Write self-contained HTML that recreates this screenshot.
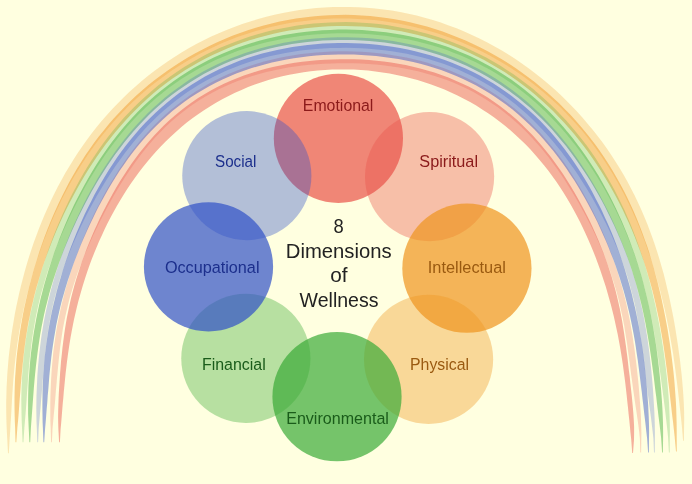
<!DOCTYPE html>
<html><head><meta charset="utf-8"><title>8 Dimensions of Wellness</title>
<style>
html,body{margin:0;padding:0;background:#ffffe0;}
body{width:692px;height:484px;overflow:hidden;position:relative;}
svg{position:absolute;left:0;top:0;display:block;will-change:transform;transform:translateZ(0)}
text{font-family:"Liberation Sans",sans-serif;}
</style></head><body>
<svg width="692" height="484" viewBox="0 0 692 484">
<path d="M59.9 442.3 L59.1 442.3 L58.4 429.2 L58.2 422.9 L58.1 416.6 L58.2 410.4 L58.4 404.1 L58.6 397.9 L58.9 391.7 L59.3 385.5 L59.7 379.2 L60.1 373.0 L60.6 366.8 L61.1 360.6 L61.8 354.4 L62.4 348.2 L63.2 341.9 L64.0 335.7 L64.9 329.5 L65.9 323.2 L67.0 317.0 L68.3 310.7 L69.6 304.5 L71.0 298.3 L72.6 292.0 L74.3 285.8 L76.1 279.6 L78.0 273.4 L80.0 267.2 L82.1 261.0 L84.4 254.9 L86.7 248.7 L89.2 242.6 L91.7 236.5 L94.4 230.3 L97.2 224.2 L100.0 218.1 L103.0 212.0 L106.1 205.9 L109.3 199.9 L112.7 193.8 L116.1 187.8 L119.7 181.8 L123.4 175.9 L127.3 170.0 L131.3 164.1 L135.5 158.3 L139.8 152.6 L144.3 147.0 L148.9 141.5 L153.7 136.1 L158.7 130.8 L163.8 125.6 L169.1 120.6 L174.6 115.7 L180.3 111.1 L186.1 106.6 L192.0 102.3 L198.1 98.1 L204.4 94.2 L210.8 90.5 L217.3 87.1 L223.9 83.8 L230.7 80.7 L237.5 77.9 L244.5 75.3 L251.5 72.9 L258.6 70.7 L265.7 68.7 L272.9 67.0 L280.2 65.4 L287.5 64.0 L294.8 62.8 L302.2 61.8 L309.6 60.9 L317.0 60.2 L324.4 59.7 L331.8 59.4 L339.3 59.2 L346.7 59.2 L354.1 59.3 L361.5 59.6 L369.0 60.1 L376.4 60.8 L383.7 61.6 L391.1 62.6 L398.4 63.8 L405.7 65.1 L413.0 66.7 L420.2 68.4 L427.3 70.4 L434.4 72.6 L441.4 75.0 L448.4 77.6 L455.2 80.4 L462.0 83.4 L468.6 86.6 L475.1 90.1 L481.5 93.8 L487.8 97.6 L493.9 101.7 L499.9 106.0 L505.7 110.4 L511.3 115.0 L516.9 119.8 L522.2 124.8 L527.4 129.9 L532.4 135.1 L537.3 140.4 L542.0 145.9 L546.5 151.4 L550.9 157.0 L555.1 162.7 L559.2 168.5 L563.2 174.3 L567.0 180.2 L570.6 186.1 L574.2 192.0 L577.6 198.0 L580.9 204.0 L584.1 210.0 L587.2 216.0 L590.2 222.1 L593.0 228.1 L595.8 234.2 L598.4 240.3 L600.9 246.4 L603.3 252.6 L605.6 258.7 L607.8 264.9 L609.8 271.0 L611.8 277.2 L613.6 283.4 L615.3 289.6 L616.9 295.9 L618.3 302.1 L619.7 308.3 L620.9 314.6 L622.1 320.8 L623.1 327.0 L624.1 333.2 L625.0 339.5 L625.9 345.7 L626.7 351.9 L627.5 358.1 L628.2 364.3 L628.9 370.4 L629.7 376.6 L630.3 382.8 L631.0 389.1 L631.7 395.3 L632.3 401.6 L632.9 407.9 L633.4 414.2 L633.8 420.5 L634.1 426.9 L634.1 433.3 L634.0 439.7 L633.0 453.0 L632.2 453.0 L631.2 439.3 L630.5 432.9 L629.9 426.5 L629.3 420.2 L628.6 414.0 L628.0 407.7 L627.3 401.6 L626.7 395.4 L626.0 389.3 L625.3 383.2 L624.5 377.1 L623.7 371.0 L622.9 364.9 L622.0 358.9 L621.0 352.8 L620.0 346.8 L618.9 340.8 L617.8 334.8 L616.5 328.7 L615.2 322.7 L613.9 316.7 L612.4 310.8 L610.9 304.8 L609.2 298.8 L607.5 292.8 L605.8 286.8 L603.9 280.9 L601.9 274.9 L599.9 268.9 L597.7 263.0 L595.5 257.0 L593.1 251.1 L590.7 245.2 L588.1 239.3 L585.5 233.4 L582.7 227.5 L579.8 221.6 L576.8 215.8 L573.7 210.0 L570.5 204.2 L567.1 198.5 L563.6 192.8 L559.9 187.1 L556.2 181.5 L552.2 176.0 L548.2 170.5 L544.0 165.2 L539.6 159.9 L535.1 154.7 L530.5 149.6 L525.7 144.6 L520.7 139.7 L515.6 135.0 L510.4 130.3 L505.0 125.8 L499.5 121.5 L493.9 117.3 L488.1 113.3 L482.2 109.4 L476.2 105.6 L470.1 102.1 L463.8 98.7 L457.5 95.5 L451.0 92.5 L444.5 89.6 L437.9 87.0 L431.2 84.5 L424.4 82.2 L417.5 80.1 L410.6 78.2 L403.7 76.4 L396.6 74.9 L389.6 73.5 L382.5 72.4 L375.4 71.4 L368.2 70.6 L361.0 70.0 L353.8 69.6 L346.6 69.4 L339.4 69.4 L332.2 69.6 L325.0 70.0 L317.8 70.5 L310.7 71.3 L303.5 72.3 L296.4 73.4 L289.3 74.8 L282.3 76.3 L275.3 78.1 L268.4 80.1 L261.6 82.2 L254.8 84.6 L248.1 87.1 L241.5 89.9 L235.0 92.8 L228.6 95.9 L222.2 99.2 L216.0 102.7 L209.9 106.4 L204.0 110.2 L198.1 114.2 L192.4 118.3 L186.8 122.6 L181.4 127.1 L176.1 131.7 L170.9 136.4 L165.9 141.2 L161.0 146.2 L156.3 151.3 L151.7 156.4 L147.3 161.7 L143.0 167.0 L138.8 172.4 L134.8 177.9 L130.9 183.5 L127.2 189.1 L123.6 194.7 L120.1 200.4 L116.7 206.2 L113.5 212.0 L110.4 217.8 L107.4 223.6 L104.5 229.5 L101.8 235.4 L99.1 241.3 L96.6 247.2 L94.2 253.1 L91.8 259.1 L89.6 265.0 L87.5 271.0 L85.5 277.0 L83.6 283.0 L81.8 289.0 L80.1 295.0 L78.4 301.0 L76.9 307.0 L75.5 313.1 L74.1 319.1 L72.9 325.1 L71.7 331.2 L70.6 337.2 L69.6 343.3 L68.7 349.3 L67.8 355.4 L67.0 361.4 L66.3 367.5 L65.6 373.6 L65.0 379.6 L64.4 385.7 L63.8 391.8 L63.3 397.9 L62.7 404.1 L62.2 410.2 L61.7 416.4 L61.2 422.7 L60.6 429.0Z" fill="rgba(234,82,73,0.455)"/>
<path d="M51.9 442.3 L51.1 442.3 L50.7 428.9 L50.4 422.4 L50.3 416.0 L50.3 409.6 L50.3 403.2 L50.4 396.8 L50.6 390.4 L50.9 384.0 L51.2 377.7 L51.6 371.3 L52.1 364.9 L52.7 358.5 L53.3 352.1 L54.1 345.7 L55.0 339.4 L55.9 333.0 L57.0 326.6 L58.2 320.2 L59.5 313.9 L60.9 307.5 L62.4 301.2 L64.0 294.8 L65.7 288.5 L67.5 282.2 L69.5 275.9 L71.5 269.6 L73.6 263.3 L75.9 257.0 L78.2 250.8 L80.7 244.5 L83.2 238.2 L85.9 232.0 L88.6 225.8 L91.5 219.5 L94.4 213.3 L97.5 207.1 L100.7 200.9 L104.0 194.7 L107.4 188.6 L111.0 182.5 L114.7 176.4 L118.5 170.3 L122.5 164.4 L126.6 158.4 L130.9 152.6 L135.4 146.8 L140.0 141.1 L144.8 135.6 L149.7 130.1 L154.8 124.8 L160.1 119.6 L165.5 114.5 L171.2 109.6 L176.9 104.9 L182.9 100.4 L189.0 96.0 L195.2 91.8 L201.6 87.9 L208.1 84.1 L214.7 80.6 L221.4 77.2 L228.3 74.1 L235.2 71.2 L242.3 68.4 L249.4 65.9 L256.6 63.7 L263.9 61.6 L271.2 59.7 L278.6 58.0 L286.0 56.5 L293.5 55.2 L301.0 54.1 L308.5 53.2 L316.1 52.5 L323.6 51.9 L331.2 51.5 L338.8 51.3 L346.4 51.3 L353.9 51.4 L361.5 51.8 L369.1 52.3 L376.6 53.0 L384.1 53.8 L391.6 54.9 L399.1 56.2 L406.5 57.6 L413.9 59.2 L421.3 61.1 L428.5 63.1 L435.8 65.4 L442.9 67.8 L449.9 70.5 L456.9 73.4 L463.8 76.5 L470.5 79.7 L477.2 83.2 L483.7 87.0 L490.1 90.9 L496.4 95.0 L502.5 99.2 L508.4 103.7 L514.3 108.3 L519.9 113.1 L525.4 118.1 L530.8 123.2 L535.9 128.4 L541.0 133.8 L545.8 139.3 L550.5 144.9 L555.1 150.5 L559.5 156.3 L563.7 162.1 L567.8 168.0 L571.7 174.0 L575.5 180.0 L579.2 186.0 L582.7 192.1 L586.1 198.2 L589.4 204.3 L592.6 210.5 L595.6 216.7 L598.5 222.9 L601.4 229.1 L604.1 235.3 L606.6 241.6 L609.1 247.8 L611.5 254.1 L613.7 260.4 L615.9 266.7 L617.9 273.0 L619.8 279.3 L621.6 285.6 L623.4 291.9 L625.0 298.3 L626.5 304.6 L627.9 310.9 L629.2 317.3 L630.4 323.6 L631.5 330.0 L632.6 336.3 L633.5 342.7 L634.5 349.0 L635.3 355.4 L636.1 361.7 L636.8 368.1 L637.5 374.4 L638.2 380.8 L638.8 387.2 L639.3 393.5 L639.8 400.0 L640.3 406.4 L640.7 412.8 L641.0 419.3 L641.2 425.8 L641.4 432.4 L641.3 438.9 L641.1 452.6 L640.3 452.6 L639.9 438.7 L639.2 432.1 L638.4 425.6 L637.5 419.1 L636.6 412.7 L635.6 406.3 L634.7 400.0 L633.8 393.7 L632.9 387.4 L632.1 381.2 L631.2 375.0 L630.4 368.8 L629.6 362.6 L628.8 356.4 L627.9 350.2 L627.1 344.0 L626.1 337.7 L625.1 331.5 L624.1 325.3 L622.9 319.1 L621.6 312.9 L620.3 306.7 L618.8 300.5 L617.2 294.3 L615.5 288.2 L613.6 282.0 L611.6 275.9 L609.6 269.8 L607.3 263.7 L605.0 257.6 L602.6 251.6 L600.0 245.6 L597.4 239.6 L594.6 233.6 L591.7 227.6 L588.7 221.7 L585.7 215.8 L582.5 209.9 L579.2 204.0 L575.8 198.1 L572.3 192.2 L568.7 186.4 L565.0 180.6 L561.2 174.8 L557.2 169.1 L553.1 163.5 L548.9 157.8 L544.5 152.3 L540.0 146.8 L535.3 141.5 L530.5 136.2 L525.5 131.1 L520.3 126.1 L515.0 121.2 L509.5 116.5 L503.9 112.0 L498.1 107.6 L492.1 103.4 L486.0 99.5 L479.8 95.7 L473.4 92.1 L467.0 88.8 L460.4 85.7 L453.7 82.8 L446.9 80.1 L440.0 77.7 L433.0 75.4 L426.0 73.4 L418.9 71.6 L411.8 69.9 L404.6 68.5 L397.4 67.3 L390.1 66.2 L382.8 65.3 L375.6 64.5 L368.2 64.0 L360.9 63.6 L353.6 63.3 L346.3 63.2 L339.0 63.2 L331.7 63.4 L324.3 63.7 L317.0 64.2 L309.7 64.8 L302.4 65.6 L295.2 66.5 L287.9 67.6 L280.7 68.9 L273.5 70.4 L266.4 72.1 L259.3 73.9 L252.3 76.0 L245.3 78.3 L238.4 80.7 L231.6 83.4 L224.9 86.4 L218.3 89.5 L211.8 92.9 L205.5 96.5 L199.3 100.3 L193.2 104.3 L187.3 108.5 L181.5 113.0 L175.9 117.6 L170.5 122.3 L165.2 127.3 L160.1 132.4 L155.2 137.6 L150.4 143.0 L145.8 148.5 L141.4 154.1 L137.1 159.7 L133.0 165.4 L129.0 171.2 L125.1 177.0 L121.4 182.9 L117.8 188.8 L114.3 194.7 L110.9 200.7 L107.7 206.6 L104.5 212.6 L101.4 218.5 L98.4 224.5 L95.5 230.5 L92.7 236.5 L90.0 242.4 L87.4 248.4 L84.8 254.5 L82.4 260.5 L80.1 266.5 L77.8 272.6 L75.7 278.7 L73.7 284.8 L71.8 291.0 L70.0 297.1 L68.4 303.3 L66.9 309.5 L65.5 315.7 L64.2 321.9 L63.0 328.1 L62.0 334.4 L61.1 340.6 L60.2 346.9 L59.5 353.1 L58.8 359.4 L58.2 365.6 L57.6 371.9 L57.0 378.1 L56.5 384.3 L55.9 390.6 L55.4 396.9 L54.9 403.2 L54.3 409.5 L53.7 415.8 L53.1 422.2 L52.5 428.7Z" fill="rgba(234,82,73,0.240)"/>
<path d="M16.3 442.3 L15.5 442.3 L15.1 427.5 L14.8 420.4 L14.6 413.3 L14.5 406.2 L14.5 399.1 L14.6 392.0 L14.8 384.9 L15.1 377.8 L15.6 370.7 L16.1 363.6 L16.7 356.5 L17.5 349.4 L18.4 342.4 L19.4 335.3 L20.5 328.2 L21.7 321.2 L23.0 314.1 L24.4 307.1 L26.0 300.1 L27.6 293.0 L29.3 286.0 L31.2 279.0 L33.1 272.0 L35.2 265.0 L37.4 258.0 L39.6 251.0 L42.0 244.0 L44.5 237.1 L47.2 230.1 L49.9 223.2 L52.8 216.2 L55.8 209.4 L59.0 202.5 L62.3 195.7 L65.7 188.9 L69.3 182.1 L73.0 175.4 L76.9 168.8 L81.0 162.2 L85.2 155.6 L89.6 149.2 L94.1 142.8 L98.8 136.6 L103.7 130.4 L108.7 124.3 L113.9 118.3 L119.3 112.5 L124.8 106.7 L130.5 101.1 L136.3 95.6 L142.3 90.3 L148.4 85.1 L154.7 80.1 L161.1 75.2 L167.7 70.5 L174.4 65.9 L181.3 61.5 L188.2 57.3 L195.3 53.2 L202.5 49.4 L209.8 45.7 L217.2 42.2 L224.7 38.9 L232.3 35.8 L240.0 33.0 L247.8 30.3 L255.7 27.8 L263.6 25.5 L271.6 23.4 L279.7 21.6 L287.8 20.0 L295.9 18.6 L304.1 17.4 L312.3 16.4 L320.6 15.7 L328.8 15.2 L337.1 14.9 L345.4 14.8 L353.7 15.0 L362.0 15.4 L370.2 16.0 L378.5 16.9 L386.7 17.9 L394.8 19.2 L403.0 20.8 L411.0 22.5 L419.0 24.5 L427.0 26.6 L434.9 29.0 L442.7 31.6 L450.4 34.4 L458.1 37.4 L465.6 40.6 L473.1 44.0 L480.4 47.5 L487.7 51.3 L494.8 55.2 L501.8 59.3 L508.7 63.6 L515.5 68.1 L522.1 72.7 L528.6 77.4 L535.0 82.3 L541.2 87.4 L547.3 92.6 L553.3 97.9 L559.1 103.3 L564.7 108.9 L570.2 114.6 L575.6 120.4 L580.8 126.4 L585.8 132.4 L590.6 138.5 L595.4 144.8 L599.9 151.1 L604.3 157.5 L608.5 164.0 L612.5 170.5 L616.4 177.2 L620.2 183.9 L623.7 190.6 L627.2 197.4 L630.4 204.2 L633.5 211.1 L636.5 218.0 L639.3 224.9 L642.0 231.9 L644.5 238.9 L647.0 245.8 L649.3 252.8 L651.4 259.9 L653.5 266.9 L655.4 273.9 L657.3 280.9 L659.0 287.9 L660.7 294.9 L662.2 302.0 L663.7 309.0 L665.1 316.0 L666.4 323.0 L667.7 330.0 L668.8 337.1 L669.9 344.1 L670.9 351.1 L671.8 358.1 L672.7 365.2 L673.5 372.2 L674.2 379.3 L674.8 386.4 L675.3 393.5 L675.8 400.6 L676.2 407.8 L676.4 414.9 L676.6 422.1 L676.7 429.3 L676.7 436.5 L676.8 451.6 L676.0 451.6 L674.6 436.3 L673.8 429.0 L673.0 421.8 L672.1 414.7 L671.3 407.6 L670.5 400.6 L669.7 393.6 L668.9 386.6 L668.0 379.7 L667.2 372.8 L666.3 365.9 L665.4 359.0 L664.4 352.1 L663.4 345.2 L662.3 338.3 L661.1 331.4 L659.9 324.6 L658.6 317.7 L657.1 310.9 L655.6 304.0 L654.0 297.2 L652.3 290.3 L650.5 283.5 L648.5 276.7 L646.5 269.9 L644.3 263.1 L642.0 256.3 L639.6 249.6 L637.1 242.9 L634.4 236.1 L631.7 229.5 L628.8 222.8 L625.7 216.2 L622.6 209.6 L619.3 203.0 L615.9 196.5 L612.3 190.0 L608.6 183.6 L604.8 177.2 L600.8 170.8 L596.7 164.5 L592.5 158.3 L588.1 152.1 L583.6 146.1 L578.9 140.0 L574.1 134.1 L569.1 128.3 L564.0 122.5 L558.7 116.9 L553.3 111.3 L547.7 105.9 L542.0 100.7 L536.1 95.5 L530.1 90.5 L523.9 85.7 L517.6 81.0 L511.1 76.4 L504.6 72.1 L497.8 67.9 L491.0 63.9 L484.1 60.1 L477.0 56.5 L469.8 53.0 L462.5 49.8 L455.1 46.8 L447.7 44.0 L440.1 41.3 L432.5 38.9 L424.8 36.7 L417.0 34.7 L409.2 32.9 L401.3 31.3 L393.4 30.0 L385.5 28.8 L377.5 27.8 L369.5 27.1 L361.5 26.5 L353.4 26.2 L345.4 26.0 L337.3 26.1 L329.3 26.3 L321.3 26.8 L313.2 27.4 L305.3 28.3 L297.3 29.4 L289.3 30.6 L281.5 32.1 L273.6 33.8 L265.8 35.7 L258.1 37.8 L250.4 40.1 L242.8 42.6 L235.3 45.3 L227.8 48.3 L220.5 51.4 L213.2 54.7 L206.1 58.3 L199.1 62.0 L192.2 65.9 L185.4 70.1 L178.7 74.4 L172.2 78.8 L165.8 83.5 L159.6 88.3 L153.5 93.3 L147.6 98.5 L141.9 103.8 L136.3 109.2 L130.8 114.8 L125.5 120.4 L120.4 126.2 L115.4 132.1 L110.6 138.1 L105.9 144.1 L101.4 150.3 L97.0 156.5 L92.8 162.8 L88.7 169.1 L84.7 175.5 L80.9 181.9 L77.2 188.4 L73.7 194.9 L70.2 201.4 L66.9 208.0 L63.7 214.6 L60.6 221.2 L57.7 227.8 L54.8 234.5 L52.1 241.2 L49.5 247.9 L47.0 254.6 L44.6 261.3 L42.3 268.1 L40.2 274.9 L38.2 281.7 L36.2 288.5 L34.4 295.4 L32.8 302.2 L31.2 309.1 L29.8 315.9 L28.4 322.8 L27.2 329.7 L26.1 336.6 L25.1 343.6 L24.2 350.5 L23.4 357.4 L22.7 364.3 L22.0 371.3 L21.4 378.2 L20.8 385.1 L20.3 392.1 L19.7 399.1 L19.2 406.1 L18.7 413.1 L18.1 420.2 L17.4 427.3Z" fill="rgba(240,148,30,0.455)"/>
<path d="M8.8 453.2 L8.0 453.2 L7.2 438.0 L6.8 430.8 L6.5 423.5 L6.3 416.2 L6.2 408.9 L6.2 401.7 L6.4 394.4 L6.6 387.1 L7.0 379.9 L7.4 372.6 L8.0 365.4 L8.6 358.2 L9.4 350.9 L10.3 343.7 L11.2 336.5 L12.3 329.2 L13.5 322.0 L14.7 314.8 L16.1 307.6 L17.6 300.4 L19.2 293.2 L20.9 286.0 L22.8 278.8 L24.7 271.6 L26.7 264.5 L28.9 257.3 L31.2 250.2 L33.6 243.0 L36.2 235.9 L38.9 228.8 L41.7 221.7 L44.6 214.7 L47.7 207.7 L50.9 200.7 L54.3 193.7 L57.8 186.8 L61.5 180.0 L65.3 173.1 L69.3 166.4 L73.4 159.7 L77.7 153.1 L82.2 146.5 L86.8 140.0 L91.6 133.6 L96.5 127.3 L101.6 121.1 L106.9 115.1 L112.3 109.1 L117.9 103.2 L123.6 97.5 L129.5 91.8 L135.5 86.4 L141.7 81.0 L148.1 75.8 L154.6 70.8 L161.2 65.9 L168.0 61.2 L174.9 56.7 L181.9 52.3 L189.1 48.1 L196.3 44.1 L203.7 40.2 L211.2 36.6 L218.8 33.2 L226.5 29.9 L234.3 26.9 L242.2 24.0 L250.2 21.4 L258.2 19.0 L266.3 16.8 L274.5 14.8 L282.8 13.0 L291.0 11.4 L299.4 10.1 L307.7 9.0 L316.1 8.1 L324.5 7.5 L333.0 7.0 L341.4 6.9 L349.9 6.9 L358.3 7.2 L366.7 7.7 L375.1 8.4 L383.5 9.4 L391.8 10.6 L400.1 12.1 L408.4 13.7 L416.6 15.6 L424.7 17.7 L432.8 20.0 L440.8 22.6 L448.7 25.4 L456.6 28.3 L464.3 31.5 L471.9 34.9 L479.5 38.4 L486.9 42.2 L494.2 46.2 L501.4 50.3 L508.4 54.6 L515.4 59.1 L522.2 63.7 L528.9 68.5 L535.4 73.4 L541.8 78.5 L548.1 83.8 L554.2 89.1 L560.2 94.6 L566.0 100.2 L571.7 106.0 L577.2 111.8 L582.6 117.8 L587.8 123.9 L592.9 130.0 L597.8 136.3 L602.6 142.6 L607.2 149.1 L611.6 155.6 L615.9 162.2 L620.0 168.8 L624.0 175.6 L627.8 182.3 L631.4 189.2 L634.9 196.1 L638.2 203.0 L641.4 210.0 L644.4 217.0 L647.3 224.1 L650.0 231.2 L652.6 238.3 L655.1 245.4 L657.4 252.5 L659.6 259.7 L661.7 266.9 L663.7 274.0 L665.5 281.2 L667.2 288.4 L668.9 295.6 L670.4 302.7 L671.9 309.9 L673.3 317.1 L674.6 324.2 L675.8 331.4 L676.9 338.6 L678.0 345.8 L679.0 353.0 L680.0 360.2 L680.8 367.4 L681.6 374.6 L682.3 381.8 L682.9 389.1 L683.4 396.3 L683.8 403.6 L684.1 410.9 L684.2 418.2 L684.1 425.5 L683.9 440.8 L683.1 440.8 L681.8 425.4 L681.0 418.1 L680.2 410.8 L679.4 403.6 L678.6 396.4 L677.8 389.2 L676.9 382.1 L676.0 375.0 L675.1 367.9 L674.1 360.9 L673.1 353.8 L671.9 346.8 L670.7 339.7 L669.5 332.7 L668.1 325.7 L666.7 318.7 L665.2 311.7 L663.6 304.8 L661.9 297.8 L660.2 290.8 L658.3 283.9 L656.4 276.9 L654.3 269.9 L652.2 263.0 L649.9 256.1 L647.5 249.2 L645.1 242.2 L642.5 235.4 L639.8 228.5 L636.9 221.6 L633.9 214.8 L630.8 208.0 L627.6 201.2 L624.2 194.5 L620.6 187.8 L617.0 181.2 L613.1 174.6 L609.1 168.1 L605.0 161.7 L600.7 155.3 L596.2 149.0 L591.6 142.8 L586.8 136.6 L581.9 130.6 L576.8 124.7 L571.5 118.9 L566.1 113.2 L560.6 107.6 L554.9 102.2 L549.0 96.9 L543.0 91.7 L536.8 86.7 L530.5 81.8 L524.1 77.1 L517.6 72.5 L510.9 68.1 L504.1 63.8 L497.1 59.7 L490.1 55.8 L482.9 52.1 L475.7 48.5 L468.3 45.2 L460.9 42.0 L453.3 39.0 L445.7 36.2 L438.0 33.6 L430.2 31.2 L422.4 29.0 L414.5 27.0 L406.5 25.2 L398.5 23.6 L390.4 22.2 L382.3 21.1 L374.2 20.1 L366.1 19.4 L357.9 18.9 L349.7 18.6 L341.5 18.5 L333.3 18.6 L325.1 19.0 L316.9 19.6 L308.8 20.4 L300.7 21.4 L292.6 22.6 L284.5 24.0 L276.5 25.7 L268.6 27.6 L260.7 29.7 L252.8 31.9 L245.1 34.4 L237.4 37.1 L229.8 40.0 L222.3 43.1 L214.8 46.4 L207.5 49.9 L200.3 53.6 L193.2 57.5 L186.2 61.5 L179.4 65.7 L172.6 70.1 L166.0 74.7 L159.5 79.4 L153.2 84.3 L147.0 89.3 L141.0 94.5 L135.1 99.8 L129.3 105.3 L123.7 110.9 L118.3 116.6 L113.0 122.5 L107.9 128.4 L102.9 134.4 L98.1 140.6 L93.5 146.8 L89.0 153.1 L84.7 159.5 L80.5 166.0 L76.5 172.5 L72.6 179.1 L68.9 185.7 L65.3 192.4 L61.9 199.1 L58.6 205.9 L55.4 212.7 L52.4 219.5 L49.5 226.3 L46.7 233.2 L44.0 240.1 L41.5 247.0 L39.1 253.9 L36.7 260.8 L34.5 267.8 L32.4 274.7 L30.4 281.7 L28.6 288.7 L26.8 295.7 L25.1 302.7 L23.5 309.7 L22.1 316.7 L20.7 323.7 L19.4 330.8 L18.3 337.8 L17.2 344.9 L16.3 351.9 L15.4 359.0 L14.6 366.1 L13.9 373.2 L13.3 380.3 L12.8 387.4 L12.3 394.5 L11.9 401.6 L11.5 408.8 L11.1 416.0 L10.6 423.2 L10.2 430.4 L9.7 437.8Z" fill="rgba(240,148,30,0.240)"/>
<path d="M30.2 442.3 L29.4 442.3 L28.7 428.0 L28.4 421.2 L28.1 414.3 L28.1 407.5 L28.1 400.7 L28.2 393.8 L28.4 387.0 L28.7 380.2 L29.2 373.3 L29.7 366.5 L30.3 359.7 L31.0 352.9 L31.9 346.1 L32.8 339.3 L33.8 332.5 L35.0 325.7 L36.2 318.9 L37.6 312.1 L39.0 305.4 L40.6 298.6 L42.3 291.9 L44.1 285.1 L46.0 278.4 L48.0 271.7 L50.1 265.0 L52.3 258.3 L54.6 251.6 L57.1 244.9 L59.6 238.2 L62.3 231.6 L65.0 224.9 L67.9 218.3 L70.9 211.7 L74.0 205.1 L77.3 198.5 L80.7 192.0 L84.2 185.4 L87.8 178.9 L91.6 172.5 L95.5 166.1 L99.5 159.7 L103.8 153.4 L108.1 147.2 L112.7 141.1 L117.4 135.0 L122.2 129.1 L127.2 123.2 L132.4 117.4 L137.8 111.8 L143.3 106.3 L149.0 101.0 L154.9 95.8 L160.9 90.8 L167.1 85.9 L173.4 81.2 L179.9 76.8 L186.5 72.5 L193.3 68.3 L200.2 64.4 L207.2 60.7 L214.3 57.3 L221.6 54.0 L228.9 50.9 L236.4 48.1 L243.9 45.4 L251.5 43.0 L259.1 40.8 L266.9 38.7 L274.6 36.9 L282.5 35.3 L290.3 33.9 L298.2 32.7 L306.2 31.7 L314.1 30.9 L322.1 30.3 L330.1 29.9 L338.1 29.6 L346.1 29.6 L354.1 29.8 L362.1 30.1 L370.1 30.7 L378.1 31.4 L386.0 32.3 L393.9 33.5 L401.8 34.8 L409.6 36.3 L417.4 38.1 L425.2 40.0 L432.8 42.2 L440.4 44.6 L448.0 47.1 L455.4 49.9 L462.8 52.9 L470.0 56.1 L477.2 59.6 L484.2 63.2 L491.2 67.0 L498.0 71.0 L504.6 75.2 L511.2 79.6 L517.6 84.2 L523.8 89.0 L529.9 93.9 L535.8 99.0 L541.6 104.2 L547.2 109.6 L552.6 115.1 L557.9 120.8 L563.0 126.5 L568.0 132.4 L572.8 138.3 L577.4 144.4 L581.9 150.5 L586.3 156.7 L590.4 162.9 L594.5 169.3 L598.4 175.6 L602.1 182.1 L605.7 188.5 L609.2 195.0 L612.5 201.5 L615.7 208.1 L618.8 214.7 L621.8 221.3 L624.6 227.9 L627.3 234.6 L629.9 241.2 L632.3 247.9 L634.7 254.6 L636.9 261.3 L639.0 268.0 L641.1 274.7 L643.0 281.5 L644.7 288.2 L646.4 294.9 L648.0 301.7 L649.5 308.4 L650.9 315.2 L652.2 321.9 L653.4 328.7 L654.5 335.5 L655.6 342.2 L656.6 349.0 L657.5 355.8 L658.3 362.5 L659.1 369.3 L659.8 376.1 L660.5 382.9 L661.1 389.7 L661.6 396.6 L662.1 403.4 L662.5 410.3 L662.8 417.2 L663.0 424.1 L663.1 431.1 L663.1 438.0 L662.9 452.6 L662.1 452.6 L661.1 437.8 L660.3 430.8 L659.5 423.9 L658.6 417.0 L657.8 410.2 L657.0 403.4 L656.2 396.6 L655.3 389.9 L654.5 383.3 L653.7 376.6 L652.8 369.9 L651.9 363.3 L651.0 356.7 L650.0 350.1 L649.0 343.5 L647.9 336.8 L646.7 330.2 L645.5 323.6 L644.2 317.0 L642.8 310.5 L641.3 303.9 L639.6 297.3 L637.9 290.7 L636.1 284.2 L634.1 277.7 L632.1 271.1 L629.9 264.6 L627.6 258.1 L625.2 251.7 L622.7 245.2 L620.0 238.8 L617.3 232.4 L614.4 226.0 L611.4 219.7 L608.3 213.4 L605.1 207.1 L601.8 200.8 L598.3 194.5 L594.7 188.3 L591.0 182.1 L587.2 176.0 L583.2 169.9 L579.1 163.9 L574.9 157.9 L570.5 152.0 L566.0 146.1 L561.3 140.4 L556.5 134.7 L551.6 129.1 L546.4 123.6 L541.2 118.2 L535.7 113.0 L530.2 107.8 L524.4 102.9 L518.6 98.0 L512.5 93.4 L506.4 88.9 L500.0 84.6 L493.6 80.4 L487.0 76.5 L480.3 72.7 L473.5 69.2 L466.5 65.8 L459.5 62.7 L452.3 59.7 L445.1 57.0 L437.8 54.5 L430.4 52.2 L422.9 50.1 L415.4 48.2 L407.8 46.5 L400.2 45.0 L392.5 43.7 L384.8 42.6 L377.1 41.7 L369.4 41.0 L361.6 40.4 L353.9 40.1 L346.1 39.9 L338.3 40.0 L330.5 40.2 L322.7 40.6 L315.0 41.2 L307.3 42.0 L299.5 43.0 L291.9 44.1 L284.2 45.5 L276.6 47.0 L269.0 48.8 L261.5 50.8 L254.1 52.9 L246.7 55.3 L239.4 57.9 L232.1 60.6 L225.0 63.6 L218.0 66.8 L211.0 70.2 L204.2 73.8 L197.5 77.7 L191.0 81.7 L184.6 85.9 L178.3 90.3 L172.1 94.8 L166.1 99.6 L160.3 104.5 L154.6 109.6 L149.1 114.8 L143.8 120.2 L138.6 125.7 L133.6 131.3 L128.7 137.0 L124.0 142.8 L119.5 148.7 L115.1 154.6 L110.8 160.7 L106.7 166.8 L102.7 172.9 L98.9 179.1 L95.2 185.3 L91.6 191.6 L88.1 197.9 L84.8 204.2 L81.6 210.5 L78.4 216.8 L75.4 223.2 L72.5 229.6 L69.7 236.0 L67.0 242.4 L64.4 248.8 L61.9 255.3 L59.5 261.7 L57.2 268.2 L55.0 274.7 L52.9 281.2 L50.9 287.8 L49.1 294.3 L47.4 300.9 L45.7 307.5 L44.2 314.0 L42.8 320.7 L41.5 327.3 L40.3 333.9 L39.3 340.6 L38.3 347.2 L37.4 353.9 L36.6 360.5 L35.8 367.2 L35.1 373.9 L34.5 380.5 L33.9 387.2 L33.4 393.9 L32.9 400.7 L32.4 407.4 L31.9 414.2 L31.4 421.0 L30.9 427.8Z" fill="rgba(59,171,55,0.455)"/>
<path d="M23.4 442.3 L22.6 442.3 L22.0 427.8 L21.7 420.8 L21.5 413.8 L21.4 406.8 L21.3 399.9 L21.4 392.9 L21.6 385.9 L21.9 379.0 L22.4 372.0 L22.9 365.0 L23.6 358.1 L24.3 351.2 L25.2 344.2 L26.2 337.3 L27.3 330.4 L28.6 323.5 L29.9 316.6 L31.3 309.7 L32.9 302.8 L34.5 295.9 L36.3 289.1 L38.2 282.2 L40.1 275.4 L42.2 268.5 L44.4 261.7 L46.6 254.9 L49.0 248.1 L51.5 241.3 L54.1 234.5 L56.8 227.7 L59.7 220.9 L62.6 214.2 L65.7 207.5 L68.9 200.8 L72.2 194.1 L75.7 187.4 L79.3 180.8 L83.0 174.3 L86.9 167.7 L90.9 161.3 L95.1 154.9 L99.5 148.5 L104.0 142.3 L108.7 136.1 L113.5 130.0 L118.5 124.0 L123.7 118.1 L129.0 112.4 L134.5 106.7 L140.2 101.2 L146.0 95.9 L152.0 90.7 L158.1 85.6 L164.4 80.7 L170.9 76.0 L177.4 71.5 L184.2 67.1 L191.0 62.9 L198.0 58.9 L205.1 55.1 L212.3 51.5 L219.6 48.1 L227.1 44.9 L234.6 41.9 L242.2 39.2 L249.9 36.6 L257.6 34.2 L265.5 32.1 L273.4 30.1 L281.3 28.4 L289.3 26.9 L297.3 25.5 L305.4 24.4 L313.5 23.6 L321.6 22.9 L329.8 22.4 L337.9 22.2 L346.0 22.1 L354.2 22.3 L362.3 22.7 L370.5 23.3 L378.6 24.1 L386.6 25.1 L394.7 26.4 L402.7 27.9 L410.6 29.5 L418.5 31.4 L426.4 33.5 L434.1 35.8 L441.8 38.3 L449.5 41.0 L457.0 43.9 L464.5 47.1 L471.8 50.4 L479.0 53.9 L486.2 57.6 L493.2 61.5 L500.1 65.6 L506.8 69.9 L513.5 74.3 L520.0 78.9 L526.3 83.7 L532.6 88.6 L538.6 93.7 L544.5 98.9 L550.3 104.3 L555.9 109.8 L561.4 115.4 L566.7 121.1 L571.8 127.0 L576.8 132.9 L581.6 139.0 L586.3 145.1 L590.8 151.3 L595.1 157.6 L599.3 164.0 L603.3 170.4 L607.2 176.9 L610.9 183.5 L614.5 190.1 L617.9 196.7 L621.2 203.4 L624.4 210.1 L627.4 216.9 L630.2 223.6 L633.0 230.4 L635.6 237.2 L638.1 244.1 L640.4 250.9 L642.7 257.7 L644.8 264.6 L646.8 271.4 L648.8 278.3 L650.6 285.2 L652.3 292.0 L653.9 298.9 L655.5 305.8 L656.9 312.7 L658.3 319.5 L659.6 326.4 L660.8 333.3 L661.9 340.2 L663.0 347.0 L664.0 353.9 L664.9 360.8 L665.8 367.7 L666.6 374.7 L667.3 381.6 L667.9 388.6 L668.5 395.5 L669.0 402.5 L669.3 409.5 L669.6 416.6 L669.8 423.6 L669.9 430.7 L669.8 437.8 L669.7 452.6 L668.9 452.6 L668.1 437.6 L667.4 430.5 L666.6 423.4 L665.8 416.4 L665.0 409.4 L664.1 402.5 L663.2 395.6 L662.3 388.8 L661.4 381.9 L660.5 375.1 L659.6 368.4 L658.6 361.6 L657.7 354.8 L656.6 348.1 L655.6 341.4 L654.5 334.6 L653.3 327.9 L652.1 321.1 L650.7 314.4 L649.3 307.7 L647.8 300.9 L646.2 294.2 L644.5 287.5 L642.7 280.8 L640.7 274.1 L638.7 267.4 L636.5 260.7 L634.2 254.0 L631.8 247.4 L629.2 240.8 L626.6 234.2 L623.8 227.6 L620.9 221.1 L617.8 214.6 L614.6 208.1 L611.3 201.6 L607.9 195.2 L604.3 188.8 L600.6 182.5 L596.8 176.2 L592.8 170.0 L588.7 163.8 L584.5 157.7 L580.1 151.6 L575.6 145.6 L570.9 139.7 L566.1 133.8 L561.1 128.1 L556.0 122.5 L550.7 116.9 L545.3 111.5 L539.7 106.3 L533.9 101.1 L528.0 96.1 L522.0 91.3 L515.8 86.6 L509.5 82.1 L503.0 77.7 L496.4 73.6 L489.6 69.6 L482.8 65.9 L475.8 62.3 L468.7 59.0 L461.5 55.8 L454.2 52.9 L446.8 50.1 L439.3 47.6 L431.8 45.3 L424.2 43.2 L416.5 41.3 L408.8 39.6 L401.1 38.2 L393.3 36.9 L385.4 35.8 L377.6 34.9 L369.7 34.2 L361.8 33.7 L353.9 33.4 L346.0 33.2 L338.1 33.3 L330.2 33.5 L322.3 33.9 L314.4 34.5 L306.5 35.3 L298.7 36.3 L290.9 37.5 L283.1 38.8 L275.3 40.4 L267.6 42.1 L260.0 44.1 L252.4 46.2 L244.9 48.6 L237.4 51.1 L230.0 53.9 L222.7 56.9 L215.5 60.1 L208.5 63.4 L201.5 67.1 L194.6 70.9 L187.9 74.9 L181.3 79.1 L174.9 83.5 L168.6 88.1 L162.4 92.9 L156.4 97.8 L150.6 102.9 L144.9 108.2 L139.4 113.6 L134.1 119.1 L128.9 124.8 L123.9 130.6 L119.0 136.4 L114.3 142.4 L109.8 148.5 L105.4 154.6 L101.2 160.8 L97.1 167.1 L93.1 173.4 L89.3 179.7 L85.6 186.1 L82.1 192.5 L78.6 198.9 L75.3 205.4 L72.0 211.9 L68.9 218.4 L65.9 224.9 L63.0 231.4 L60.2 238.0 L57.5 244.5 L55.0 251.1 L52.5 257.7 L50.1 264.4 L47.9 271.0 L45.8 277.7 L43.8 284.4 L41.9 291.1 L40.1 297.8 L38.5 304.5 L37.0 311.3 L35.6 318.1 L34.4 324.9 L33.2 331.7 L32.2 338.5 L31.3 345.3 L30.5 352.1 L29.7 358.9 L29.1 365.7 L28.5 372.5 L28.0 379.4 L27.5 386.2 L27.0 393.0 L26.6 399.9 L26.1 406.7 L25.6 413.6 L25.0 420.6 L24.4 427.5Z" fill="rgba(59,171,55,0.240)"/>
<path d="M44.2 442.3 L43.4 442.3 L42.9 428.6 L42.6 422.0 L42.5 415.4 L42.4 408.9 L42.4 402.3 L42.5 395.8 L42.6 389.2 L42.9 382.7 L43.2 376.1 L43.7 369.6 L44.2 363.0 L44.8 356.5 L45.6 350.0 L46.4 343.4 L47.3 336.9 L48.3 330.4 L49.5 323.8 L50.7 317.3 L52.0 310.8 L53.5 304.3 L55.1 297.8 L56.7 291.3 L58.5 284.8 L60.4 278.4 L62.3 271.9 L64.4 265.4 L66.6 259.0 L68.9 252.6 L71.3 246.1 L73.8 239.7 L76.4 233.3 L79.1 226.9 L81.9 220.5 L84.8 214.1 L87.9 207.7 L91.1 201.4 L94.3 195.0 L97.8 188.7 L101.3 182.4 L105.0 176.2 L108.8 170.0 L112.8 163.9 L116.9 157.8 L121.2 151.8 L125.7 145.8 L130.3 140.0 L135.1 134.2 L140.0 128.6 L145.1 123.1 L150.4 117.7 L155.8 112.5 L161.4 107.4 L167.2 102.4 L173.1 97.7 L179.2 93.1 L185.5 88.7 L191.9 84.4 L198.4 80.4 L205.0 76.6 L211.8 73.0 L218.7 69.6 L225.7 66.4 L232.8 63.4 L240.0 60.6 L247.3 58.1 L254.6 55.7 L262.1 53.6 L269.5 51.7 L277.1 49.9 L284.7 48.4 L292.3 47.1 L299.9 45.9 L307.6 45.0 L315.3 44.2 L323.1 43.6 L330.8 43.3 L338.5 43.1 L346.3 43.0 L354.0 43.2 L361.7 43.6 L369.5 44.1 L377.2 44.8 L384.9 45.7 L392.5 46.8 L400.1 48.1 L407.7 49.6 L415.2 51.3 L422.7 53.2 L430.2 55.3 L437.5 57.6 L444.8 60.1 L452.0 62.8 L459.1 65.7 L466.2 68.8 L473.1 72.1 L479.9 75.6 L486.6 79.4 L493.1 83.3 L499.6 87.4 L505.8 91.7 L512.0 96.2 L518.0 100.9 L523.8 105.7 L529.5 110.7 L535.0 115.8 L540.4 121.1 L545.6 126.5 L550.6 132.0 L555.5 137.7 L560.2 143.4 L564.7 149.3 L569.1 155.2 L573.4 161.2 L577.4 167.3 L581.4 173.4 L585.1 179.6 L588.8 185.8 L592.3 192.1 L595.6 198.4 L598.9 204.7 L602.0 211.0 L604.9 217.4 L607.8 223.8 L610.6 230.2 L613.2 236.6 L615.7 243.0 L618.1 249.5 L620.4 255.9 L622.6 262.4 L624.7 268.8 L626.6 275.3 L628.5 281.7 L630.3 288.2 L632.0 294.7 L633.5 301.2 L635.0 307.6 L636.4 314.1 L637.7 320.6 L639.0 327.1 L640.1 333.6 L641.2 340.1 L642.2 346.6 L643.1 353.1 L643.9 359.6 L644.7 366.1 L645.4 372.6 L646.1 379.1 L646.7 385.6 L647.3 392.2 L647.7 398.8 L648.2 405.3 L648.5 411.9 L648.8 418.6 L649.0 425.2 L649.1 431.9 L649.0 438.6 L648.9 452.6 L648.1 452.6 L647.1 438.3 L646.3 431.6 L645.6 424.9 L644.8 418.3 L644.0 411.8 L643.3 405.3 L642.5 398.8 L641.8 392.3 L641.0 385.9 L640.2 379.5 L639.4 373.1 L638.6 366.8 L637.8 360.4 L636.8 354.0 L635.9 347.7 L634.9 341.3 L633.8 335.0 L632.6 328.7 L631.3 322.3 L630.0 316.0 L628.5 309.7 L627.0 303.4 L625.3 297.1 L623.6 290.8 L621.7 284.6 L619.8 278.3 L617.7 272.1 L615.6 265.8 L613.3 259.6 L610.9 253.4 L608.5 247.2 L605.9 241.0 L603.2 234.9 L600.4 228.7 L597.6 222.6 L594.6 216.5 L591.5 210.4 L588.2 204.3 L584.9 198.2 L581.4 192.2 L577.9 186.2 L574.2 180.3 L570.3 174.4 L566.4 168.5 L562.3 162.7 L558.0 156.9 L553.6 151.3 L549.0 145.7 L544.3 140.2 L539.5 134.8 L534.5 129.5 L529.3 124.4 L523.9 119.4 L518.4 114.5 L512.8 109.8 L507.0 105.3 L501.0 100.9 L494.9 96.7 L488.7 92.7 L482.3 88.9 L475.8 85.3 L469.2 81.9 L462.5 78.7 L455.7 75.7 L448.8 72.9 L441.8 70.3 L434.7 68.0 L427.5 65.8 L420.3 63.8 L413.1 62.1 L405.8 60.5 L398.4 59.1 L391.0 57.9 L383.6 56.9 L376.1 56.0 L368.7 55.4 L361.2 54.9 L353.7 54.6 L346.2 54.5 L338.7 54.5 L331.2 54.7 L323.7 55.1 L316.3 55.6 L308.8 56.3 L301.4 57.2 L293.9 58.3 L286.6 59.5 L279.2 60.9 L271.9 62.6 L264.6 64.4 L257.4 66.4 L250.3 68.6 L243.2 71.0 L236.2 73.6 L229.3 76.5 L222.5 79.5 L215.8 82.8 L209.2 86.2 L202.7 89.9 L196.4 93.7 L190.1 97.8 L184.1 102.1 L178.2 106.5 L172.4 111.1 L166.8 115.9 L161.3 120.9 L156.1 125.9 L150.9 131.2 L146.0 136.6 L141.2 142.0 L136.6 147.6 L132.1 153.3 L127.8 159.1 L123.7 164.9 L119.6 170.8 L115.8 176.8 L112.1 182.8 L108.5 188.8 L105.0 194.9 L101.7 201.0 L98.4 207.1 L95.3 213.3 L92.3 219.4 L89.4 225.6 L86.6 231.7 L83.8 237.9 L81.2 244.1 L78.7 250.3 L76.3 256.5 L73.9 262.7 L71.7 268.9 L69.6 275.2 L67.5 281.4 L65.6 287.7 L63.8 294.0 L62.0 300.3 L60.4 306.6 L58.9 312.9 L57.5 319.2 L56.2 325.6 L55.1 331.9 L54.0 338.3 L53.0 344.7 L52.1 351.1 L51.3 357.4 L50.6 363.8 L49.9 370.2 L49.3 376.6 L48.8 383.0 L48.3 389.4 L47.7 395.8 L47.3 402.3 L46.7 408.7 L46.2 415.2 L45.7 421.8 L45.1 428.4Z" fill="rgba(48,81,200,0.455)"/>
<path d="M38.1 442.3 L37.3 442.3 L36.8 428.3 L36.5 421.6 L36.4 414.9 L36.3 408.3 L36.4 401.6 L36.5 394.9 L36.8 388.3 L37.1 381.6 L37.4 374.9 L37.9 368.3 L38.5 361.6 L39.1 355.0 L39.9 348.3 L40.7 341.7 L41.6 335.0 L42.7 328.4 L43.8 321.7 L45.1 315.1 L46.5 308.5 L48.0 301.8 L49.6 295.2 L51.3 288.6 L53.1 282.1 L55.0 275.5 L57.1 268.9 L59.3 262.4 L61.5 255.8 L63.9 249.3 L66.4 242.8 L69.0 236.3 L71.7 229.8 L74.6 223.3 L77.5 216.9 L80.6 210.5 L83.7 204.0 L87.0 197.6 L90.4 191.3 L94.0 184.9 L97.6 178.6 L101.4 172.3 L105.4 166.1 L109.4 159.9 L113.7 153.8 L118.0 147.7 L122.6 141.7 L127.3 135.8 L132.1 130.0 L137.2 124.3 L142.4 118.8 L147.7 113.3 L153.2 108.0 L158.9 102.9 L164.8 97.8 L170.8 93.0 L177.0 88.4 L183.3 83.9 L189.7 79.6 L196.3 75.5 L203.1 71.6 L209.9 68.0 L216.9 64.5 L224.0 61.2 L231.2 58.2 L238.5 55.4 L245.9 52.8 L253.3 50.4 L260.8 48.2 L268.4 46.2 L276.1 44.4 L283.8 42.8 L291.5 41.5 L299.2 40.3 L307.0 39.3 L314.8 38.5 L322.7 37.9 L330.5 37.5 L338.4 37.3 L346.2 37.3 L354.1 37.4 L361.9 37.8 L369.8 38.3 L377.6 39.0 L385.4 40.0 L393.1 41.1 L400.9 42.4 L408.6 43.9 L416.2 45.6 L423.8 47.5 L431.3 49.7 L438.8 52.0 L446.2 54.6 L453.5 57.3 L460.7 60.3 L467.8 63.5 L474.8 66.9 L481.7 70.5 L488.5 74.3 L495.1 78.3 L501.6 82.5 L508.0 86.9 L514.2 91.5 L520.2 96.2 L526.1 101.1 L531.9 106.2 L537.5 111.4 L542.9 116.8 L548.1 122.3 L553.2 127.9 L558.2 133.6 L563.0 139.4 L567.6 145.3 L572.1 151.2 L576.4 157.3 L580.6 163.4 L584.6 169.5 L588.5 175.7 L592.3 182.0 L595.9 188.3 L599.5 194.6 L602.8 200.9 L606.1 207.3 L609.3 213.7 L612.3 220.1 L615.2 226.5 L618.0 232.9 L620.7 239.4 L623.3 245.9 L625.7 252.4 L628.1 258.9 L630.3 265.4 L632.4 272.0 L634.4 278.5 L636.3 285.1 L638.0 291.7 L639.7 298.3 L641.2 304.9 L642.7 311.5 L644.0 318.1 L645.2 324.8 L646.3 331.4 L647.4 338.0 L648.3 344.6 L649.2 351.3 L650.0 357.9 L650.7 364.5 L651.4 371.2 L652.0 377.8 L652.6 384.5 L653.1 391.2 L653.5 397.8 L653.9 404.5 L654.3 411.3 L654.6 418.0 L654.8 424.8 L654.9 431.5 L654.9 438.3 L654.8 452.6 L654.0 452.6 L653.4 438.2 L652.6 431.3 L651.8 424.5 L651.0 417.8 L650.1 411.1 L649.2 404.5 L648.4 397.9 L647.5 391.3 L646.7 384.8 L645.9 378.3 L645.1 371.8 L644.3 365.3 L643.5 358.8 L642.7 352.3 L641.9 345.8 L641.0 339.3 L640.0 332.8 L639.0 326.3 L637.8 319.8 L636.6 313.3 L635.3 306.8 L633.8 300.3 L632.2 293.9 L630.5 287.4 L628.7 280.9 L626.7 274.5 L624.6 268.1 L622.3 261.8 L620.0 255.4 L617.5 249.1 L614.8 242.8 L612.1 236.6 L609.2 230.3 L606.2 224.1 L603.1 218.0 L599.9 211.8 L596.6 205.7 L593.2 199.6 L589.7 193.6 L586.0 187.5 L582.2 181.5 L578.4 175.6 L574.4 169.6 L570.2 163.8 L566.0 157.9 L561.6 152.1 L557.1 146.4 L552.4 140.8 L547.6 135.3 L542.6 129.8 L537.5 124.5 L532.3 119.2 L526.8 114.1 L521.3 109.2 L515.5 104.3 L509.6 99.7 L503.6 95.2 L497.4 90.9 L491.1 86.8 L484.7 82.9 L478.1 79.2 L471.4 75.7 L464.5 72.4 L457.6 69.3 L450.6 66.5 L443.4 63.8 L436.2 61.4 L429.0 59.2 L421.6 57.2 L414.2 55.4 L406.8 53.8 L399.3 52.4 L391.8 51.2 L384.2 50.2 L376.6 49.4 L369.0 48.7 L361.4 48.2 L353.8 47.9 L346.2 47.8 L338.5 47.9 L330.9 48.1 L323.3 48.5 L315.7 49.0 L308.1 49.7 L300.5 50.6 L293.0 51.7 L285.5 53.0 L278.0 54.5 L270.6 56.1 L263.2 58.0 L255.8 60.0 L248.6 62.3 L241.4 64.7 L234.3 67.4 L227.2 70.3 L220.3 73.4 L213.5 76.7 L206.8 80.3 L200.2 84.0 L193.8 88.0 L187.5 92.1 L181.3 96.5 L175.3 101.0 L169.5 105.7 L163.8 110.6 L158.2 115.6 L152.9 120.8 L147.6 126.1 L142.6 131.6 L137.7 137.1 L133.0 142.7 L128.4 148.5 L124.0 154.3 L119.7 160.2 L115.5 166.1 L111.5 172.1 L107.6 178.1 L103.8 184.2 L100.2 190.2 L96.6 196.3 L93.2 202.5 L89.9 208.6 L86.6 214.8 L83.5 221.0 L80.5 227.2 L77.6 233.5 L74.8 239.7 L72.1 246.0 L69.5 252.3 L67.1 258.6 L64.7 265.0 L62.5 271.4 L60.4 277.8 L58.4 284.2 L56.6 290.7 L54.9 297.1 L53.3 303.6 L51.9 310.1 L50.6 316.6 L49.4 323.2 L48.3 329.7 L47.3 336.2 L46.5 342.8 L45.7 349.3 L45.0 355.8 L44.3 362.4 L43.7 368.9 L43.2 375.4 L42.6 381.9 L42.1 388.5 L41.6 395.0 L41.0 401.6 L40.5 408.2 L39.9 414.8 L39.3 421.4 L38.7 428.1Z" fill="rgba(48,81,200,0.240)"/>
<circle cx="338.40" cy="138.30" r="64.6" fill="rgba(234,82,73,0.700)"/>
<circle cx="429.55" cy="176.64" r="64.6" fill="rgba(234,82,73,0.370)"/>
<circle cx="466.90" cy="268.20" r="64.6" fill="rgba(240,148,30,0.700)"/>
<circle cx="428.56" cy="359.35" r="64.6" fill="rgba(240,148,30,0.370)"/>
<circle cx="337.00" cy="396.70" r="64.6" fill="rgba(59,171,55,0.700)"/>
<circle cx="245.85" cy="358.36" r="64.6" fill="rgba(59,171,55,0.370)"/>
<circle cx="208.50" cy="266.80" r="64.6" fill="rgba(48,81,200,0.700)"/>
<circle cx="246.84" cy="175.65" r="64.6" fill="rgba(48,81,200,0.370)"/>
<text x="302.8" y="111.4" textLength="70.6" lengthAdjust="spacingAndGlyphs" font-size="16.3" fill="#8b1a1a">Emotional</text>
<text x="419.3" y="166.6" textLength="58.7" lengthAdjust="spacingAndGlyphs" font-size="16.3" fill="#8b1a1a">Spiritual</text>
<text x="427.8" y="272.8" textLength="78.1" lengthAdjust="spacingAndGlyphs" font-size="16.3" fill="#9a5a10">Intellectual</text>
<text x="410.0" y="370.4" textLength="59.0" lengthAdjust="spacingAndGlyphs" font-size="16.3" fill="#9a5a10">Physical</text>
<text x="286.2" y="423.8" textLength="102.7" lengthAdjust="spacingAndGlyphs" font-size="16.3" fill="#1a5c1a">Environmental</text>
<text x="202.0" y="370.4" textLength="63.7" lengthAdjust="spacingAndGlyphs" font-size="16.3" fill="#1a5c1a">Financial</text>
<text x="164.9" y="272.8" textLength="94.6" lengthAdjust="spacingAndGlyphs" font-size="16.3" fill="#1c2f8c">Occupational</text>
<text x="215.0" y="166.6" textLength="41.4" lengthAdjust="spacingAndGlyphs" font-size="16.3" fill="#1c2f8c">Social</text>
<text x="333.4" y="233.0" textLength="10.2" lengthAdjust="spacingAndGlyphs" font-size="20" fill="#222">8</text>
<text x="285.8" y="257.8" textLength="105.8" lengthAdjust="spacingAndGlyphs" font-size="20" fill="#222">Dimensions</text>
<text x="330.3" y="282.3" textLength="17.3" lengthAdjust="spacingAndGlyphs" font-size="20" fill="#222">of</text>
<text x="299.6" y="306.7" textLength="78.9" lengthAdjust="spacingAndGlyphs" font-size="20" fill="#222">Wellness</text>
</svg>
</body></html>
